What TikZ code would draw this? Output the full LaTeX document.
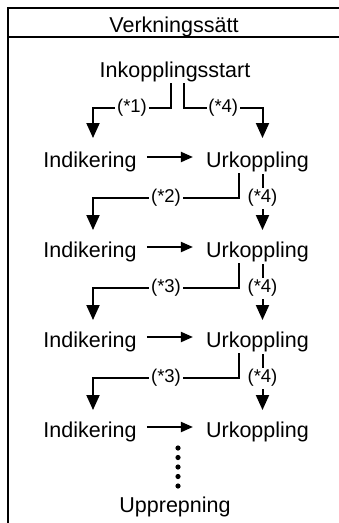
\documentclass[tikz,border=0pt]{standalone}
\usepackage{fontspec}
\setmainfont{Liberation Sans}
\usetikzlibrary{arrows.meta}
\begin{document}
\begin{tikzpicture}[x=1pt,y=-1pt,
  txt/.style={anchor=base,inner sep=0pt,font=\fontsize{21.5}{24}\selectfont},
  lab/.style={fill=white,inner sep=1.8pt,font=\fontsize{18.5}{20}\selectfont},
  br/.style={line width=2pt,-{Triangle[width=13pt,length=15pt]}},
  nx/.style={line width=2pt,-{Triangle[width=10pt,length=12pt]}},
  frameline/.style={line width=1.5pt}]
\useasboundingbox (0,0) rectangle (339,523);
% frame
\draw[frameline] (339,8) -- (8,8) -- (8,523);
\draw[frameline] (8,37) -- (339,37);
\node[txt] (hdr) at (174,32) {Verkningssätt};
\node[txt] (start) at (175,77) {Inkopplingsstart};
% rows
\foreach \k in {1,2,3,4}{
  \pgfmathsetmacro{\B}{167+90*(\k-1)}
  \node[txt] (ind\k) at (90,\B) {Indikering};
  \node[txt] (urk\k) at (257.5,\B) {Urkoppling};
  \draw[nx] ([shift={(10,-10)}]ind\k.base east) -- ([shift={(-13,-10)}]urk\k.base west);
}
% first branch
\coordinate (s1) at (171,83);
\coordinate (s2) at (184,83);
\coordinate (t1) at (93,138);
\coordinate (t2) at (262.5,138);
\draw[br] (s1) -- (171,107.5) -- node[lab]{(*1)} (93,107.5) -- (t1);
\draw[br] (s2) -- (184,107.5) -- node[lab]{(*4)} (262.5,107.5) -- (t2);
% later branches
\foreach \k/\n in {1/2,2/3,3/3}{
  \pgfmathsetmacro{\B}{167+90*(\k-1)}
  \coordinate (a\k) at (239,\B+6);
  \coordinate (b\k) at (93,\B+63);
  \coordinate (c\k) at (262.5,\B+7);
  \coordinate (d\k) at (262.5,\B+63);
  \draw[br] (a\k) -- (239,\B+31) -- node[lab]{(*\n)} (93,\B+31) -- (b\k);
  \draw[br] (c\k) -- node[lab,pos=0.43]{(*4)} (d\k);
}
% dots
\foreach \i in {0,...,4}{
  \fill (178,448+9.5*\i) circle (2.6pt);
}
\node[txt] (rep) at (175,512) {Upprepning};
\end{tikzpicture}
\end{document}
